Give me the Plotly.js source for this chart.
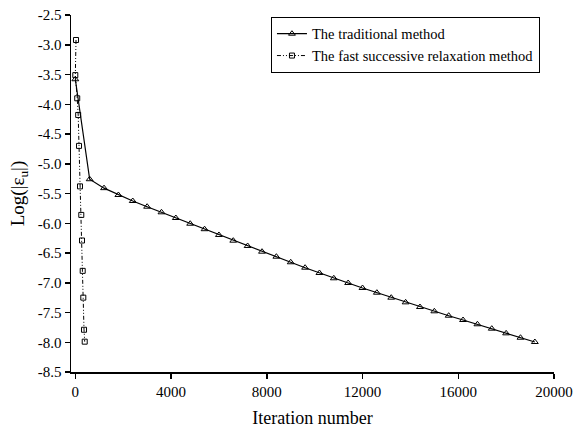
<!DOCTYPE html>
<html>
<head>
<meta charset="utf-8">
<script src="https://cdn.plot.ly/plotly-3.0.1.min.js"></script>
<style>html,body{margin:0;padding:0;background:#fff;}#chart{width:576px;height:430px;}</style>
</head>
<body>
<div id="chart"></div>
<script>
// Traditional method (triangles)
const tradX = [0, 600, 1200, 1800, 2400, 3000, 3600, 4200, 4800, 5400, 6000, 6600, 7200, 7800, 8400, 9000, 9600, 10200, 10800, 11400, 12000, 12600, 13200, 13800, 14400, 15000, 15600, 16200, 16800, 17400, 18000, 18600, 19200];
const tradY = [-3.58, -5.26, -5.41, -5.525, -5.626, -5.722, -5.816, -5.912, -6.008, -6.10, -6.197, -6.293, -6.382, -6.478, -6.562, -6.656, -6.747, -6.836, -6.925, -7.004, -7.088, -7.167, -7.251, -7.329, -7.408, -7.480, -7.554, -7.626, -7.698, -7.772, -7.850, -7.924, -7.996];
// Fast successive relaxation method (squares)
const fastX = [30, 0, 80, 120, 155, 196, 250, 280, 309, 334, 364, 393];
const fastY = [-2.92, -3.51, -3.90, -4.18, -4.70, -5.38, -5.86, -6.29, -6.80, -7.25, -7.79, -7.99];

const seriesNames = ["The traditional method", "The fast successive relaxation method"];
const xTickVals = [0, 4000, 8000, 12000, 16000, 20000];
const xTickText = ["0", "4000", "8000", "12000", "16000", "20000"];
const yTickVals = [-8.5, -8.0, -7.5, -7.0, -6.5, -6.0, -5.5, -5.0, -4.5, -4.0, -3.5, -3.0, -2.5];
const yTickText = ["-8.5", "-8.0", "-7.5", "-7.0", "-6.5", "-6.0", "-5.5", "-5.0", "-4.5", "-4.0", "-3.5", "-3.0", "-2.5"];

const font = "'Liberation Serif', serif";

const traces = [
  {
    x: tradX, y: tradY, name: seriesNames[0], type: "scatter", mode: "lines+markers",
    line: {color: "#000", width: 1.2},
    marker: {symbol: "triangle-up-open", size: 6, color: "#000", line: {width: 1, color: "#000"}}
  },
  {
    x: fastX, y: fastY, name: seriesNames[1], type: "scatter", mode: "lines+markers",
    line: {color: "#000", width: 1, dash: "4px,2px,1px,2px,1px,2px"},
    marker: {symbol: "square-open", size: 5, color: "#000", line: {width: 1, color: "#000"}}
  }
];

const layout = {
  width: 576, height: 430,
  margin: {l: 71, r: 22, t: 15, b: 58},
  paper_bgcolor: "#fff", plot_bgcolor: "#fff",
  font: {family: font, size: 15, color: "#000"},
  showlegend: true,
  legend: {
    x: 0.414, y: 0.995, xanchor: "left", yanchor: "top",
    bordercolor: "#000", borderwidth: 1, bgcolor: "#fff",
    font: {family: font, size: 14.5, color: "#000"},
    tracegroupgap: 0
  },
  xaxis: {
    range: [-180, 20000], showgrid: false, zeroline: false,
    showline: true, linecolor: "#000", linewidth: 1.5,
    ticks: "outside", ticklen: 5, tickwidth: 1.5, tickcolor: "#000",
    tickvals: xTickVals, ticktext: xTickText,
    tickfont: {family: font, size: 15, color: "#000"},
    title: {text: "Iteration number", font: {family: font, size: 18, color: "#000"}, standoff: 13}
  },
  yaxis: {
    range: [-8.5, -2.5], showgrid: false, zeroline: false,
    showline: true, linecolor: "#000", linewidth: 1.5,
    ticks: "outside", ticklen: 5, tickwidth: 1.5, tickcolor: "#000",
    tickvals: yTickVals, ticktext: yTickText,
    tickfont: {family: font, size: 15, color: "#000"},
    title: {text: "Log(|ε<sub>u</sub>|)", font: {family: font, size: 19, color: "#000"}, standoff: 8}
  }
};

Plotly.newPlot("chart", traces, layout, {displayModeBar: false, staticPlot: true});
</script>
</body>
</html>
